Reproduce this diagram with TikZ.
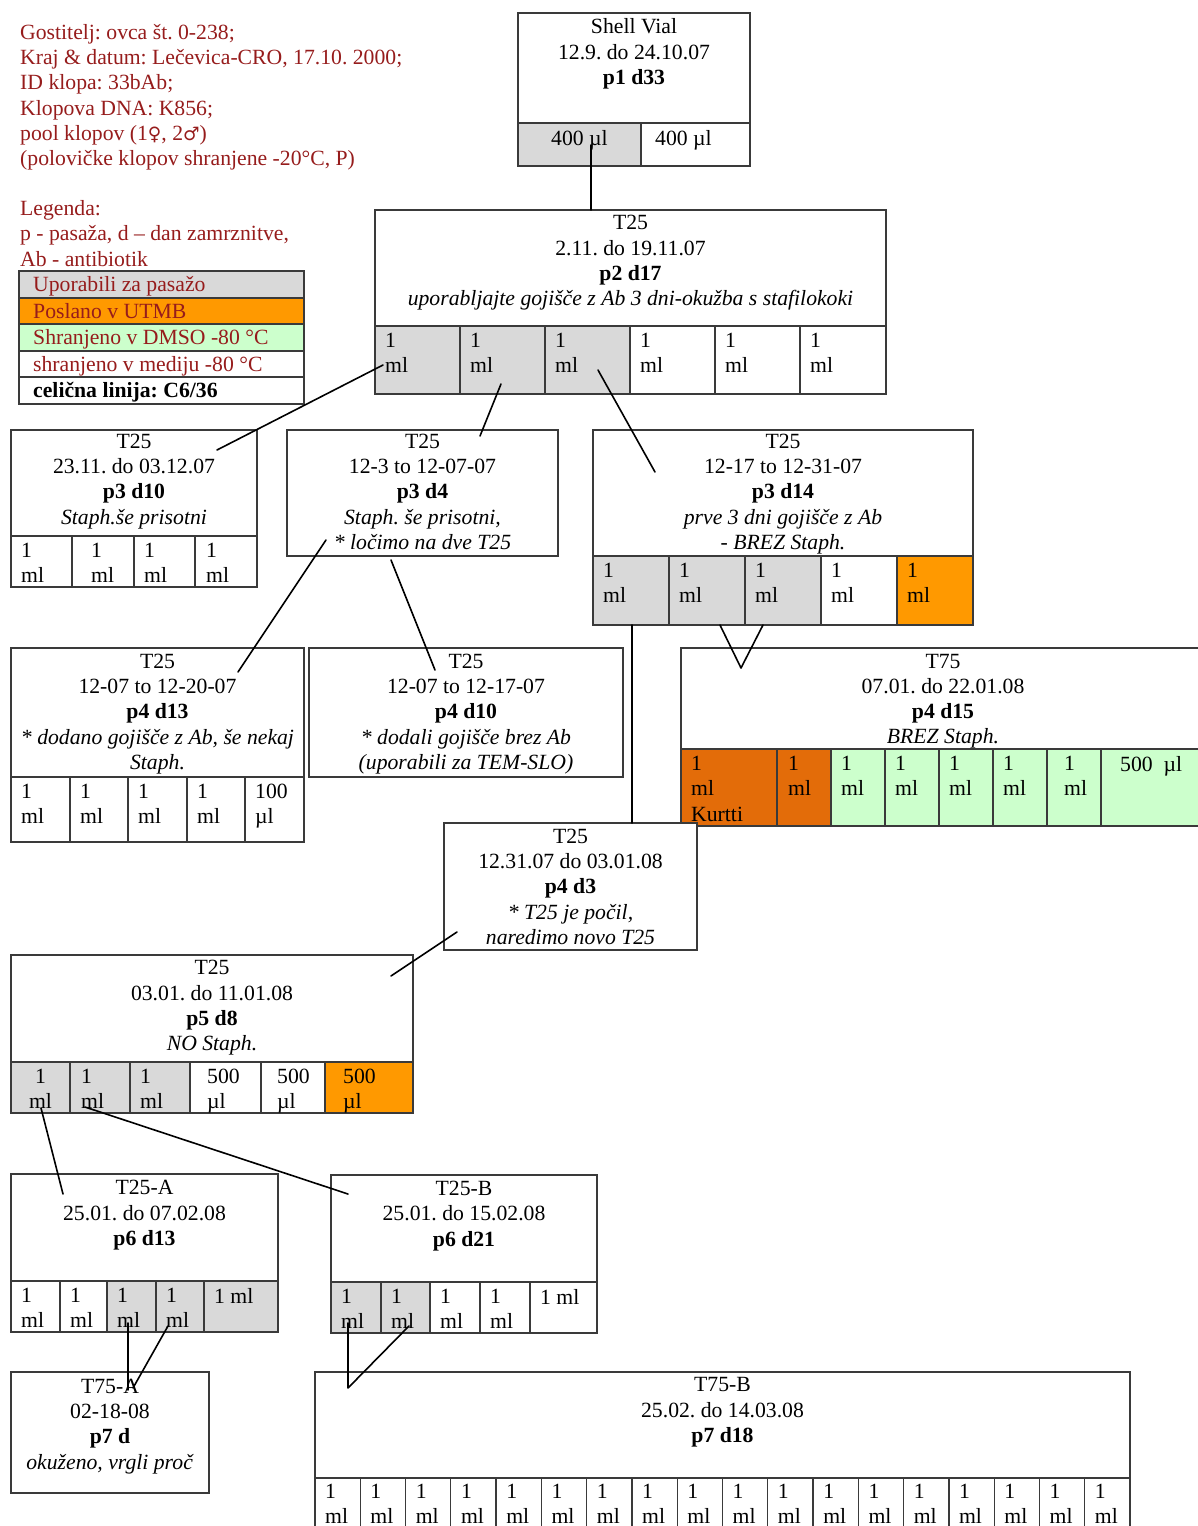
\documentclass[tikz,border=0pt]{standalone}
\usepackage{fontspec}
\setmainfont{Liberation Serif}
\newfontfamily\symfont[Scale=0.85]{DejaVu Sans}
\usetikzlibrary{calc}
\definecolor{cgray}{HTML}{D9D9D9}
\definecolor{corange}{HTML}{FF9900}
\definecolor{cdark}{HTML}{E36C09}
\definecolor{cgreen}{HTML}{CCFFCC}
\definecolor{cred}{RGB}{150,28,28}
\definecolor{cline}{HTML}{3A3A3A}
\tikzset{
  box/.style={draw=cline, line width=1.3pt, fill=white, inner sep=0pt, outer sep=0pt, anchor=north west},
  cell/.style={draw=cline, line width=1.3pt, inner sep=0pt, outer sep=0pt, anchor=north west},
  celltxt/.style={inner sep=0pt, anchor=north west, align=left},
  title/.style={inner sep=0pt, anchor=north, align=center},
  hdr/.style={inner sep=0pt, anchor=north west, align=left, text=cred},
  legtxt/.style={inner sep=0pt, anchor=base west, text=cred},
  conn/.style={line width=1.6pt, black, line cap=round, line join=round},
}
\newcommand{\bx}[5]{\node[box, minimum width={(#4-#2)*1pt}, minimum height={(#5-#3)*1pt}] (#1) at (#2,#3) {};}
\newcommand{\cellrow}[4]{\foreach \xa/\xb/\fc/\off/\tx [count=\i] in {#4}{%
  \node[cell, fill=\fc, minimum width={(\xb-\xa)*1pt}, minimum height={(#3-#2)*1pt}] (#1-c\i) at (\xa,#2) {};
  \node[celltxt] (#1-t\i) at (\xa+\off,#2+7) {\tx};}}
\begin{document}
\frenchspacing
\begin{tikzpicture}[x=1pt,y=-1pt,every node/.append style={font=\fontsize{21.7}{25.3}\selectfont\frenchspacing}]
\useasboundingbox (0,0) rectangle (1198,1526);
% header
\node[hdr] (info) at (20,24) {Gostitelj: ovca št. 0-238;\\Kraj \& datum: Lečevica-CRO, 17.10. 2000;\\ID klopa: 33bAb;\\Klopova DNA: K856;\\pool klopov (1{\symfont ♀}, 2{\symfont ♂})\\(polovičke klopov shranjene -20°C, P)};
\node[hdr] (leg) at (20,200.2) {Legenda:\\p - pasaža, d – dan zamrznitve,\\Ab - antibiotik};
% legend table
\node[cell, fill=cgray, minimum width=285pt, minimum height=27pt] (lg1) at (19,271) {};
\node[cell, fill=corange, minimum width=285pt, minimum height=26pt] (lg2) at (19,298) {};
\node[cell, fill=cgreen, minimum width=285pt, minimum height=27pt] (lg3) at (19,324) {};
\node[cell, fill=white, minimum width=285pt, minimum height=26pt] (lg4) at (19,351) {};
\node[cell, fill=white, minimum width=285pt, minimum height=27pt] (lg5) at (19,377) {};
\node[legtxt] (lg1t) at (33,291.5) {Uporabili za pasažo};
\node[legtxt] (lg2t) at (33,318.3) {Poslano v UTMB};
\node[legtxt] (lg3t) at (33,344.5) {Shranjeno v DMSO -80 °C};
\node[legtxt] (lg4t) at (33,371.3) {shranjeno v mediju -80 °C};
\node[legtxt, text=black] (lg5t) at (33,397.5) {\textbf{celična linija: C6/36}};
% Shell vial
\bx{sv}{518}{13}{750}{166}
\node[title] (sv-title) at (634,18.6) {Shell Vial\\12.9. do 24.10.07\\\textbf{p1 d33}};
\cellrow{sv}{123}{166}{518/641/cgray/33/{400 µl}, 641/750/white/14/{400 µl}}
% p2
\bx{p2}{375}{210}{886}{394}
\node[title] (p2-title) at (630.5,215.3) {T25\\2.11. do 19.11.07\\\textbf{p2 d17}\\\textit{uporabljajte gojišče z Ab 3 dni-okužba s stafilokoki}};
\cellrow{p2}{326}{394}{375/460/cgray/10/{1\\ml}, 460/545/cgray/10/{1\\ml}, 545/630/cgray/10/{1\\ml}, 630/715/white/10/{1\\ml}, 715/800/white/10/{1\\ml}, 800/886/white/10/{1\\ml}}
% p3 d10
\bx{p3a}{11}{430}{257}{587}
\node[title] (p3a-title) at (134,433.6) {T25\\23.11. do 03.12.07\\\textbf{p3 d10}\\\textit{Staph.še prisotni}};
\cellrow{p3a}{536}{587}{11/72/white/10/{1\\ml}, 72/134/white/19/{1\\ml}, 134/195/white/10/{1\\ml}, 195/257/white/11/{1\\ml}}
% p3 d4
\bx{p3b}{287}{430}{558}{556}
\node[title] (p3b-title) at (422.5,433.6) {T25\\12-3 to 12-07-07\\\textbf{p3 d4}\\\textit{Staph. še prisotni,}\\\textit{* ločimo na dve T25}};
% p3 d14
\bx{p3c}{593}{430}{973}{625}
\node[title] (p3c-title) at (783,433.6) {T25\\12-17 to 12-31-07\\\textbf{p3 d14}\\\textit{prve 3 dni gojišče z Ab}\\\textit{- BREZ Staph.}};
\cellrow{p3c}{556}{625}{593/669/cgray/10/{1\\ml}, 669/745/cgray/10/{1\\ml}, 745/821/cgray/10/{1\\ml}, 821/897/white/10/{1\\ml}, 897/973/corange/10/{1\\ml}}
% p4 d13
\bx{p4a}{11}{648}{304}{842}
\node[title] (p4a-title) at (157.5,653.6) {T25\\12-07 to 12-20-07\\\textbf{p4 d13}\\\textit{* dodano gojišče z Ab, še nekaj}\\\textit{Staph.}};
\cellrow{p4a}{777}{842}{11/70/white/10/{1\\ml}, 70/128/white/10/{1\\ml}, 128/187/white/10/{1\\ml}, 187/245/white/10/{1\\ml}, 245/304/white/10/{100\\µl}}
% p4 d10
\bx{p4b}{309}{648}{623}{777}
\node[title] (p4b-title) at (466,653.6) {T25\\12-07 to 12-17-07\\\textbf{p4 d10}\\\textit{* dodali gojišče brez Ab}\\\textit{(uporabili za TEM-SLO)}};
% T75 p4 d15
\bx{t75}{681}{648}{1215}{826}
\node[title] (t75-title) at (943,653.6) {T75\\07.01. do 22.01.08\\\textbf{p4 d15}\\\textit{BREZ Staph.}};
\cellrow{t75}{749}{826}{681/777/cdark/10/{1\\ml\\Kurtti}, 777/831/cdark/11/{1\\ml}, 831/885/cgreen/10/{1\\ml}, 885/939/cgreen/10/{1\\ml}, 939/993/cgreen/10/{1\\ml}, 993/1047/cgreen/10/{1\\ml}, 1047/1101/cgreen/17/{1\\ml}, 1101/1215/cgreen/19/{500\enspace µl}}
% p4 d3
\bx{p4c}{444}{823}{697}{950}
\node[title] (p4c-title) at (570.5,828.6) {T25\\12.31.07 do 03.01.08\\\textbf{p4 d3}\\\textit{* T25 je počil,}\\\textit{naredimo novo T25}};
% p5 d8
\bx{p5}{11}{955}{413}{1113}
\node[title] (p5-title) at (212,960.3) {T25\\03.01. do 11.01.08\\\textbf{p5 d8}\\\textit{NO Staph.}};
\cellrow{p5}{1062}{1113}{11/70/cgray/0/{}, 70/130/cgray/11/{1\\ml}, 130/190/cgray/10/{1\\ml}, 190/261/white/17/{500\\µl}, 261/325/white/16/{500\\µl}, 325/413/corange/18/{500\\µl}}
\node[title] (p5-t1x) at (40.5,1069) {1\\ml};
% T25-A
\bx{t25a}{11}{1174}{278}{1332}
\node[title] (t25a-title) at (144.5,1180.3) {T25-A\\25.01. do 07.02.08\\\textbf{p6 d13}};
\cellrow{t25a}{1281}{1332}{11/60/white/10/{1\\ml}, 60/107/white/10/{1\\ml}, 107/156/cgray/10/{1\\ml}, 156/204/cgray/10/{1\\ml}, 204/278/cgray/10/{1 ml}}
% T25-B
\bx{t25b}{331}{1175}{597}{1333}
\node[title] (t25b-title) at (464,1181) {T25-B\\25.01. do 15.02.08\\\textbf{p6 d21}};
\cellrow{t25b}{1282}{1333}{331/381/cgray/10/{1\\ml}, 381/430/cgray/10/{1\\ml}, 430/480/white/10/{1\\ml}, 480/530/white/10/{1\\ml}, 530/597/white/10/{1 ml}}
% T75-A
\bx{t75a}{11}{1372}{209}{1493}
\node[title] (t75a-title) at (110,1378.6) {T75-A\\02-18-08\\\textbf{p7 d}\\\textit{okuženo, vrgli proč}};
% T75-B
\bx{t75b}{315}{1372}{1130}{1540}
\node[title] (t75b-title) at (722.5,1377.3) {T75-B\\25.02. do 14.03.08\\\textbf{p7 d18}};
\foreach \k in {0,...,17}{
  \pgfmathsetmacro\xa{315+\k*45.2778}
  \node[cell, fill=white, minimum width=45.2778pt, minimum height=62pt] (t75b-c\k) at (\xa,1478) {};
  \node[celltxt] (t75b-t\k) at (\xa+10,1484) {1\\ml};
}
% connectors
\coordinate (k1a) at (591,145); \coordinate (k1b) at (591,210);
\coordinate (k2a) at (383,365); \coordinate (k2b) at (217,450);
\coordinate (k3a) at (501,384); \coordinate (k3b) at (480,436);
\coordinate (k4a) at (598,370); \coordinate (k4b) at (655,472);
\coordinate (k5a) at (326,540); \coordinate (k5b) at (238,672);
\coordinate (k6a) at (391,560); \coordinate (k6b) at (435,670);
\coordinate (k7a) at (632,625); \coordinate (k7b) at (632,823);
\coordinate (k8a) at (720,625); \coordinate (k8b) at (741,668); \coordinate (k8c) at (763,625);
\coordinate (k9a) at (457,932); \coordinate (k9b) at (391,976);
\coordinate (k10a) at (41,1108); \coordinate (k10b) at (63,1194);
\coordinate (k11a) at (85,1107); \coordinate (k11b) at (348,1194);
\coordinate (k12a) at (128,1323); \coordinate (k12b) at (128,1390);
\coordinate (k12c) at (168,1326); \coordinate (k12d) at (133,1388);
\coordinate (k13a) at (348,1323); \coordinate (k13b) at (348,1388); \coordinate (k13c) at (409,1326);
\draw[conn] (k1a) -- (k1b);
\draw[conn] (k2a) -- (k2b);
\draw[conn] (k3a) -- (k3b);
\draw[conn] (k4a) -- (k4b);
\draw[conn] (k5a) -- (k5b);
\draw[conn] (k6a) -- (k6b);
\draw[conn] (k7a) -- (k7b);
\draw[conn] (k8a) -- (k8b) -- (k8c);
\draw[conn] (k9a) -- (k9b);
\draw[conn] (k10a) -- (k10b);
\draw[conn] (k11a) -- (k11b);
\draw[conn] (k12a) -- (k12b);
\draw[conn] (k12c) -- (k12d);
\draw[conn] (k13a) -- (k13b) -- (k13c);
\end{tikzpicture}
\end{document}
